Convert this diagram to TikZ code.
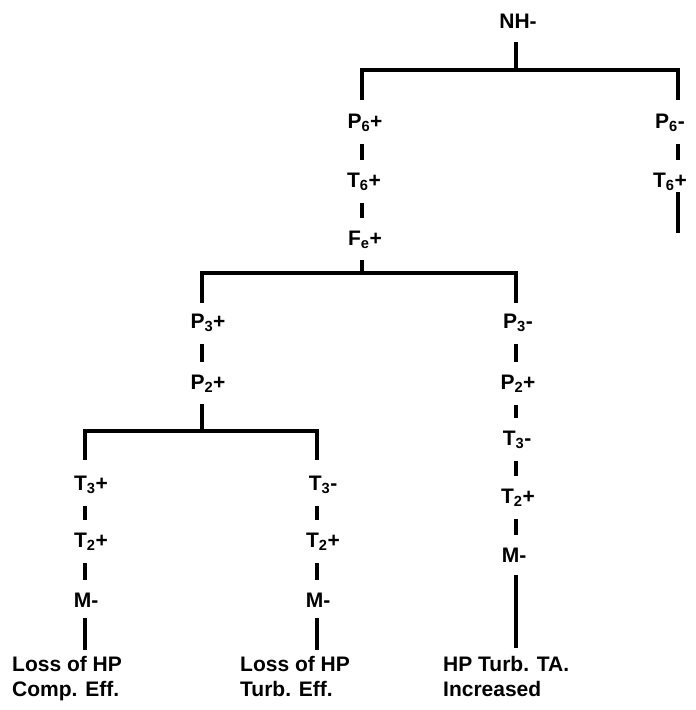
\documentclass[tikz,border=0pt]{standalone}
\usepackage{fontspec}
\setmainfont{Liberation Sans}
\begin{document}
\begin{tikzpicture}[x=1pt, y=-1pt,
    lbl/.style={font=\fontsize{21}{25}\selectfont\bfseries, inner sep=0pt,
                text height=16pt, text depth=5pt, anchor=base},
    endtxt/.style={font=\fontsize{21}{25}\selectfont\bfseries, inner sep=0pt,
                align=left, anchor=north west},
    tick/.style={line width=3.2pt, shorten <=11pt, shorten >=11pt},
    stem/.style={line width=3.2pt},
    bar/.style={line width=3.6pt}]

    \useasboundingbox (0,0) rectangle (696,710);

    % 各列的竖线位置
    \coordinate (ca) at (362,0);
    \coordinate (cb) at (678,0);
    \coordinate (cc) at (202,0);
    \coordinate (cd) at (516,0);
    \coordinate (ce) at (85,0);
    \coordinate (cf) at (317,0);

    % 横杠的汇合点
    \coordinate (b1) at (516,70);
    \coordinate (b2) at (362,273);
    \coordinate (b3) at (202,431);
    \coordinate (e1) at (678,233);

    % 顶部
    \node[lbl] (nh) at (518,28) {NH-};

    % 第一层分支
    \node[lbl] (p6p) at (365,128) {P\textsubscript{6}+};
    \node[lbl] (t6p) at (364,187) {T\textsubscript{6}+};
    \node[lbl] (fep) at (365,245) {F\textsubscript{e}+};
    \node[lbl] (p6m) at (670,128) {P\textsubscript{6}-};
    \node[lbl] (t6m) at (670,187) {T\textsubscript{6}+};

    % 第二层分支
    \node[lbl] (p3p) at (208,328) {P\textsubscript{3}+};
    \node[lbl] (p2p) at (208,389) {P\textsubscript{2}+};
    \node[lbl] (p3m) at (518,328) {P\textsubscript{3}-};
    \node[lbl] (p2r) at (518,389) {P\textsubscript{2}+};
    \node[lbl] (t3r) at (517,445) {T\textsubscript{3}-};
    \node[lbl] (t2r) at (518,503) {T\textsubscript{2}+};
    \node[lbl] (mr)  at (514,562) {M-};

    % 第三层分支
    \node[lbl] (t3a) at (91,490) {T\textsubscript{3}+};
    \node[lbl] (t2a) at (91,547) {T\textsubscript{2}+};
    \node[lbl] (ma)  at (86,607) {M-};
    \node[lbl] (t3b) at (323,490) {T\textsubscript{3}-};
    \node[lbl] (t2b) at (323,547) {T\textsubscript{2}+};
    \node[lbl] (mb)  at (318,607) {M-};

    % 结论
    \node[endtxt] (enda) at (12,656) {Loss of HP\\Comp. Eff.};
    \node[endtxt] (endb) at (240,656) {Loss of HP\\Turb. Eff.};
    \node[endtxt] (endc) at (443,656) {HP Turb. TA.\\Increased};

    % 横杠
    \draw[stem, shorten <=9pt] (nh.south -| cd) -- (b1);
    \draw[bar, shorten <=12pt, shorten >=12pt] (p6p.north -| ca) |- (b1) -| (p6m.north -| cb);
    \draw[stem, shorten <=10pt] (fep.south -| ca) -- (b2);
    \draw[bar, shorten <=9pt, shorten >=9pt] (p3p.north -| cc) |- (b2) -| (p3m.north -| cd);
    \draw[stem, shorten <=10pt] (p2p.south -| cc) -- (b3);
    \draw[bar, shorten <=14pt, shorten >=14pt] (t3a.north -| ce) |- (b3) -| (t3b.north -| cf);

    % 短竖线
    \draw[tick] (p6p.south -| ca) -- (t6p.north -| ca);
    \draw[tick] (t6p.south -| ca) -- (fep.north -| ca);
    \draw[tick] (p6m.south -| cb) -- (t6m.north -| cb);
    \draw[stem] (t6m.south -| cb) -- (e1);
    \draw[tick] (p3p.south -| cc) -- (p2p.north -| cc);
    \draw[tick] (p3m.south -| cd) -- (p2r.north -| cd);
    \draw[tick] (p2r.south -| cd) -- (t3r.north -| cd);
    \draw[tick] (t3r.south -| cd) -- (t2r.north -| cd);
    \draw[tick] (t2r.south -| cd) -- (mr.north -| cd);
    \draw[tick] (t3a.south -| ce) -- (t2a.north -| ce);
    \draw[tick] (t2a.south -| ce) -- (ma.north -| ce);
    \draw[tick] (t3b.south -| cf) -- (t2b.north -| cf);
    \draw[tick] (t2b.south -| cf) -- (mb.north -| cf);

    % 通向结论的长竖线
    \draw[stem, shorten <=6pt, shorten >=6pt] (ma.south -| ce) -- (enda.north -| ce);
    \draw[stem, shorten <=6pt, shorten >=6pt] (mb.south -| cf) -- (endb.north -| cf);
    \draw[stem, shorten <=8pt, shorten >=8pt] (mr.south -| cd) -- (endc.north -| cd);

\end{tikzpicture}
\end{document}
